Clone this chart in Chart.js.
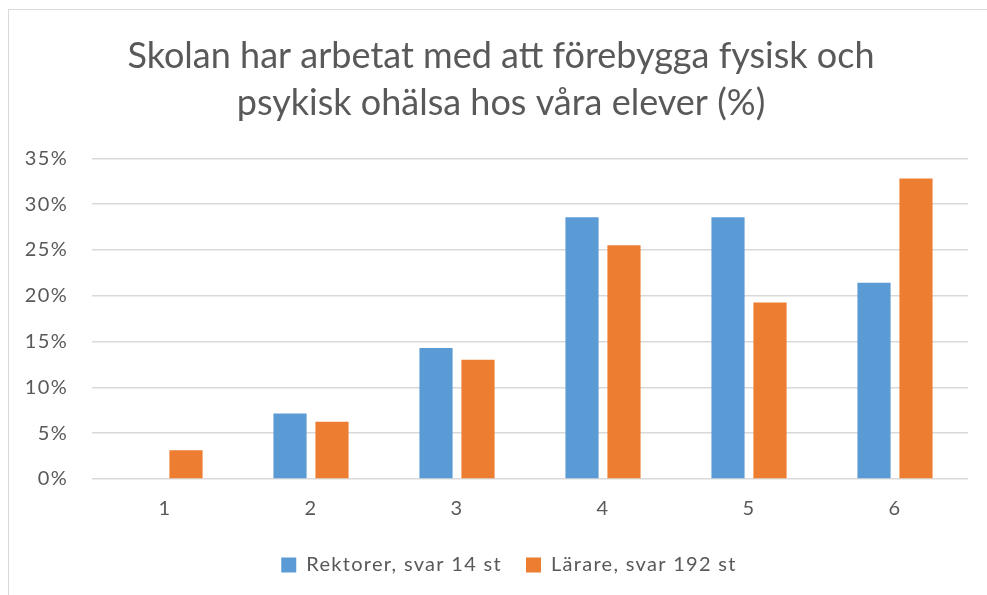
<!DOCTYPE html>
<html><head><meta charset="utf-8">
<script src="https://cdn.jsdelivr.net/npm/chart.js@4/dist/chart.umd.min.js"></script>
<style>
html,body{margin:0;padding:0;background:#fff;}
#frame{position:absolute;left:8px;top:9px;width:1000px;height:600px;border-left:1px solid #d9d9d9;border-top:1px solid #d9d9d9;}
#wrap{position:absolute;left:0;top:0;width:987px;height:595px;}
</style></head>
<body>
<div id="frame"></div>
<div id="wrap"><canvas id="c" width="987" height="595"></canvas></div>
<script>
const categories = ['1','2','3','4','5','6'];
const rektorer = [0, 7.14, 14.29, 28.57, 28.57, 21.43];
const larare = [3.13, 6.25, 13.02, 25.52, 19.27, 32.81];
const seriesNames = ['Rektorer, svar 14 st', 'Lärare, svar 192 st'];
const titleLines = ['Skolan har arbetat med att förebygga fysisk och', 'psykisk ohälsa hos våra elever (%)'];

const txt = '#595959';
const spacing = {
  id: 'spacing',
  afterInit(chart) {
    const tb = chart.titleBlock;
    if (tb) {
      const orig = tb.draw.bind(tb);
      tb.draw = function () {
        const c = chart.ctx; const ls = c.letterSpacing;
        c.letterSpacing = '0px'; orig(); c.letterSpacing = ls;
      };
    }
  },
  beforeUpdate(chart) { chart.ctx.letterSpacing = '1.3px'; },
  afterLayout(chart) {
    if (chart.legend) { chart.legend.left += 20; chart.legend.right += 20; }
    if (chart.titleBlock) { chart.titleBlock.left += 12; chart.titleBlock.right += 12; }
  },
  beforeDraw(chart) { chart.ctx.letterSpacing = '1.3px'; }
};

new Chart(document.getElementById('c'), {
  type: 'bar',
  plugins: [spacing],
  data: {
    labels: categories,
    datasets: [
      {label: seriesNames[0], data: rektorer, backgroundColor: '#5b9bd5'},
      {label: seriesNames[1], data: larare, backgroundColor: '#ed7d31'}
    ]
  },
  options: {
    responsive: false,
    animation: false,
    devicePixelRatio: 1,
    categoryPercentage: 0.575,
    barPercentage: 0.79,
    layout: {padding: {left: 10, right: 19, top: 33, bottom: 10}},
    plugins: {
      title: {display: true, text: titleLines, color: txt,
        font: {family: 'Lato', size: 36, weight: 'normal', lineHeight: 1.31},
        padding: {top: 0, bottom: 31}},
      legend: {position: 'bottom',
        labels: {color: txt, boxWidth: 15, boxHeight: 15, padding: 24,
          font: {family: 'Lato', size: 20}}},
      tooltip: {enabled: false}
    },
    scales: {
      x: {grid: {display: false}, border: {display: false},
        ticks: {color: txt, font: {family: 'Lato', size: 20}, padding: 10}},
      y: {min: 0, max: 35,
        grid: {color: '#d9d9d9', lineWidth: 1.5, drawTicks: false},
        border: {display: false},
        afterFit: s => { s.width = 82; },
        ticks: {stepSize: 5, color: txt, padding: 24, font: {family: 'Lato', size: 20},
          callback: v => v + '%'}}
    }
  }
});
</script>
</body></html>
